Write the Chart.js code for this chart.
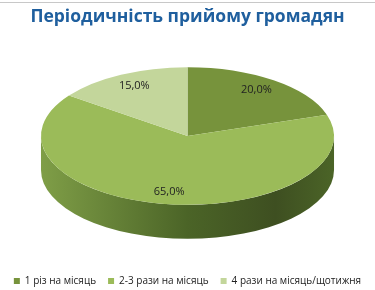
<!DOCTYPE html>
<html>
<head>
<meta charset="utf-8">
<script src="https://cdn.jsdelivr.net/npm/chart.js@4.4.0/dist/chart.umd.min.js"></script>
<style>
  html, body { margin: 0; padding: 0; background: #fff; }
  #wrap { width: 375px; height: 290px; position: relative; overflow: hidden; }
  #line { position: absolute; left: 0; top: 2px; width: 375px; height: 1px; background: #c8c8c8; }
  canvas { display: block; }
</style>
</head>
<body>
<div id="wrap">
  <canvas id="piechart" width="375" height="296"></canvas>
  <div id="line"></div>
</div>
<script>
const categories = ['1 різ на місяць', '2-3 рази на місяць', '4 рази на місяць/щотижня'];
const shares = [20, 65, 15];

const topColors = ['#77933C', '#9BBB59', '#C3D69B'];
// side of each slice: [left, middle, right] shades
const sideColors = [
  ['#6a8434', '#4e6326', '#3c4c1d'],
  ['#7f9e47', '#4b6427', '#3e4f21'],
  ['#aabd84', '#8c9c6a', '#6d7a52']
];

const SX = 1.32;   // horizontal stretch of the disc
const SY = 0.62;   // tilt
const DEPTH = 34;  // thickness in px

const tilt3d = {
  id: 'tilt3d',
  beforeDatasetsDraw(chart) {
    const ctx = chart.ctx;
    const arcs = chart.getDatasetMeta(0).data;
    const x = arcs[0].x, y = arcs[0].y, r = arcs[0].outerRadius;
    const cy = y - DEPTH / 2;
    arcs.forEach((a, i) => {
      const s = Math.max(a.startAngle, 0);
      const e = Math.min(a.endAngle, Math.PI);
      if (e <= s) return;
      const g = ctx.createLinearGradient(x - r * SX, 0, x + r * SX, 0);
      g.addColorStop(0, sideColors[i][0]);
      g.addColorStop(0.5, sideColors[i][1]);
      g.addColorStop(0.8, sideColors[i][2]);
      g.addColorStop(1, sideColors[i][1]);
      ctx.save();
      ctx.fillStyle = g;
      ctx.beginPath();
      ctx.ellipse(x, cy, r * SX, r * SY, 0, s, e);
      ctx.ellipse(x, cy + DEPTH, r * SX, r * SY, 0, e, s, true);
      ctx.closePath();
      ctx.fill();
      ctx.restore();
    });
    ctx.save();
    ctx.translate(x, cy);
    ctx.scale(SX, SY);
    ctx.translate(-x, -y);
  },
  afterDatasetsDraw(chart) {
    const ctx = chart.ctx;
    ctx.restore();
    const arcs = chart.getDatasetMeta(0).data;
    const x = arcs[0].x, y = arcs[0].y, r = arcs[0].outerRadius;
    const cy = y - DEPTH / 2;
    ctx.save();
    ctx.font = '11px "Open Sans", sans-serif';
    ctx.fillStyle = '#222';
    ctx.textAlign = 'center';
    ctx.textBaseline = 'middle';
    arcs.forEach((a, i) => {
      const mid = (a.startAngle + a.endAngle) / 2;
      const k = 0.8;
      const lx = x + Math.cos(mid) * r * k * SX;
      const ly = cy + Math.sin(mid) * r * 0.82 * SY;
      ctx.fillText(shares[i].toFixed(1).replace('.', ',') + '%', lx, ly);
    });
    ctx.restore();
  }
};

new Chart('piechart', {
  type: 'pie',
  data: {
    labels: categories,
    datasets: [{
      data: shares,
      backgroundColor: topColors,
      borderWidth: 0
    }]
  },
  options: {
    responsive: false,
    animation: false,
    plugins: {
      tooltip: { enabled: false },
      title: {
        display: true,
        text: 'Періодичність прийому громадян',
        color: '#1F5F9E',
        font: { family: 'Open Sans', size: 17.5, weight: 'bold' },
        padding: { top: 7, bottom: 14 }
      },
      legend: {
        position: 'bottom',
        labels: {
          color: '#222',
          font: { family: 'Open Sans', size: 10 },
          boxWidth: 6,
          boxHeight: 6,
          padding: 12
        }
      }
    }
  },
  plugins: [tilt3d]
});
</script>
</body>
</html>
